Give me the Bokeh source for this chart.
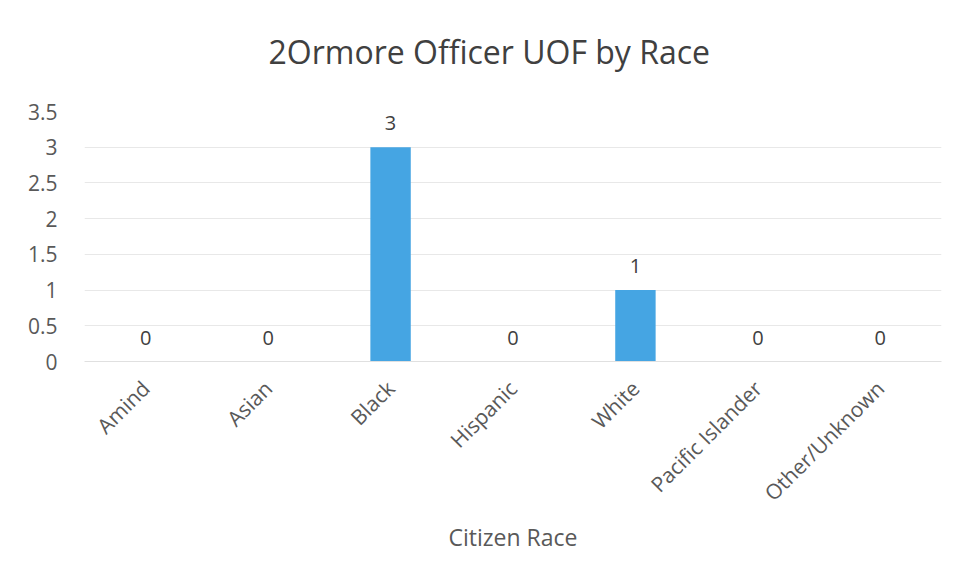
from math import pi
from bokeh.plotting import figure
from bokeh.models import ColumnDataSource, FixedTicker, LabelSet, Title
from bokeh.core.properties import value
from bokeh.embed import file_html
from bokeh.resources import INLINE

categories = ["Amind", "Asian", "Black", "Hispanic", "White", "Pacific Islander", "Other/Unknown"]
counts = [0, 0, 3, 0, 1, 0, 0]
y_ticks = [0, 0.5, 1, 1.5, 2, 2.5, 3, 3.5]
title_text = "2Ormore Officer UOF by Race"
x_label = "Citizen Race"

src = ColumnDataSource(data=dict(cat=categories, val=counts, lab=[str(v) for v in counts]))

p = figure(x_range=categories, y_range=(0, 3.5), width=961, height=578,
           output_backend="svg", toolbar_location=None,
           min_border_left=84, min_border_right=20, min_border_top=111, min_border_bottom=217)

p.vbar(x="cat", top="val", width=0.33, source=src, color="#45a5e3", line_color=None)

labels = LabelSet(x="cat", y="val", text="lab", source=src, text_align="center",
                  text_baseline="middle", y_offset=24, text_font=value("Open Sans"),
                  text_font_size="20px", text_color="#404040")
p.add_layout(labels)

# empty spacer between the title and the plot frame
spacer = Title(text=" ", text_font_size="10px", standoff=26)
p.add_layout(spacer, "above")

p.title.text = title_text
p.title.align = "left"
p.title.text_font = "Open Sans"
p.title.text_font_size = "32px"
p.title.text_font_style = "normal"
p.title.text_color = "#404040"
p.title.offset = 184
p.title.standoff = 0

p.outline_line_color = None
p.xgrid.grid_line_color = None
p.ygrid.grid_line_color = "#e8e8e8"
p.yaxis.ticker = FixedTicker(ticks=y_ticks)
p.yaxis.axis_line_color = None
p.yaxis.major_tick_line_color = None
p.yaxis.minor_tick_line_color = None
p.yaxis.major_label_text_font = "Open Sans"
p.yaxis.major_label_text_font_size = "21px"
p.yaxis.major_label_text_color = "#595959"
p.yaxis.major_label_standoff = 21

p.xaxis.axis_line_color = "#e0e0e0"
p.xaxis.major_tick_line_color = None
p.xaxis.minor_tick_line_color = None
p.xaxis.major_label_orientation = pi / 4
p.xaxis.major_label_text_font = "Open Sans"
p.xaxis.major_label_text_font_size = "21px"
p.xaxis.major_label_text_color = "#595959"
p.xaxis.major_label_standoff = 17
p.xaxis.axis_label = x_label
p.xaxis.axis_label_text_font = "Open Sans"
p.xaxis.axis_label_text_font_size = "23px"
p.xaxis.axis_label_text_font_style = "normal"
p.xaxis.axis_label_text_color = "#595959"
p.xaxis.axis_label_standoff = 2

p.background_fill_color = "white"
p.border_fill_color = "white"

open("out.html", "w").write(file_html(p, INLINE))
